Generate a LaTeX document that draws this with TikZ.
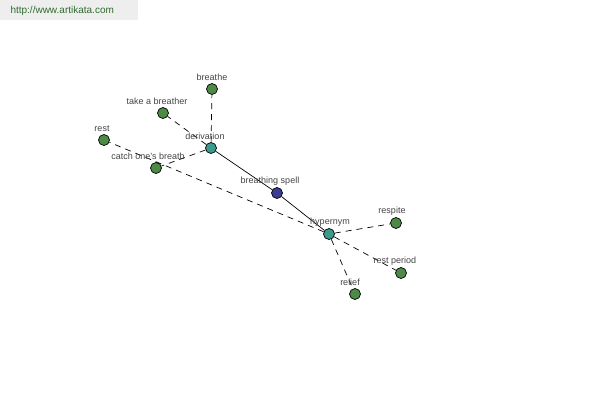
\documentclass[tikz,border=0pt]{standalone}
\usepackage{fontspec}
\setmainfont{Liberation Sans}
\usetikzlibrary{positioning}
\definecolor{leafgreen}{HTML}{4C8A46}
\definecolor{relteal}{HTML}{3A9A8C}
\definecolor{wordblue}{HTML}{3C3C94}
\definecolor{labelgray}{HTML}{444444}
\definecolor{urlgreen}{HTML}{2F6B2F}
\definecolor{boxgray}{HTML}{EEEEEE}

\begin{document}
\begin{tikzpicture}[x=1pt, y=-1pt,
  leaf/.style={circle, draw=black, line width=0.7pt, fill=leafgreen, inner sep=0pt, minimum size=11pt},
  relation/.style={circle, draw=black, line width=0.7pt, fill=relteal, inner sep=0pt, minimum size=11pt},
  word/.style={circle, draw=black, line width=0.7pt, fill=wordblue, inner sep=0pt, minimum size=11pt},
  tag/.style={font=\fontsize{9}{11}\selectfont, text=labelgray, inner sep=0pt},
  link/.style={line width=0.7pt},
  dashlink/.style={line width=0.7pt, dash pattern=on 6pt off 5pt}
]
  \useasboundingbox (0,0) rectangle (600,400);
  \fill[boxgray] (0,0) rectangle (138,20);
  \node[font=\fontsize{10}{12}\selectfont, text=urlgreen, anchor=west] (url) at (7,11) {http://www.artikata.com};

  \node[word] (spell) at (277,193) {};
  \node[relation] (deriv) at (211,148) {};
  \node[relation] (hyper) at (329,234) {};
  \node[leaf] (breathe) at (212,89) {};
  \node[leaf] (breather) at (163,113) {};
  \node[leaf] (catch) at (156,168) {};
  \node[leaf] (rest) at (104,140) {};
  \node[leaf] (respite) at (396,223) {};
  \node[leaf] (period) at (401,273) {};
  \node[leaf] (relief) at (355,294) {};

  \draw[link] (deriv) -- (spell);
  \draw[link] (spell) -- (hyper);
  \draw[dashlink] (deriv) -- (breathe);
  \draw[dashlink] (deriv) -- (breather);
  \draw[dashlink] (deriv) -- (catch);
  \draw[dashlink] (hyper) -- (rest);
  \draw[dashlink] (hyper) -- (respite);
  \draw[dashlink] (hyper) -- (period);
  \draw[dashlink] (hyper) -- (relief);

  % labels sit a little left of their nodes
  \node[tag, above=2pt of spell, xshift=-7pt] (spelltag) {breathing spell};
  \node[tag, above=2pt of deriv, xshift=-6pt] (derivtag) {derivation};
  \node[tag, above=2pt of hyper, xshift=1pt] (hypertag) {hypernym};
  \node[tag, above=2pt of breathe] (breathetag) {breathe};
  \node[tag, above=2pt of breather, xshift=-6pt] (breathertag) {take a breather};
  \node[tag, above=2pt of catch, xshift=-8pt] (catchtag) {catch one's breath};
  \node[tag, above=2pt of rest, xshift=-2pt] (resttag) {rest};
  \node[tag, above=2pt of respite, xshift=-4pt] (respitetag) {respite};
  \node[tag, above=2pt of period, xshift=-6pt] (periodtag) {rest period};
  \node[tag, above=2pt of relief, xshift=-5pt] (relieftag) {relief};
\end{tikzpicture}
\end{document}
